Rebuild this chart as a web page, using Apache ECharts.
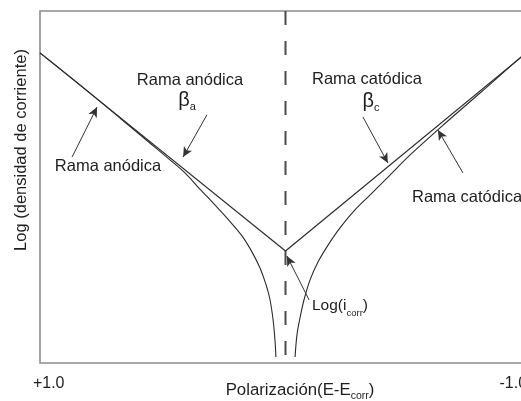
<!DOCTYPE html>
<html>
<head>
<meta charset="utf-8">
<script src="https://cdn.jsdelivr.net/npm/echarts@6/dist/echarts.min.js"></script>
<style>
  html, body { margin: 0; padding: 0; background: #fff; }
  #chart { width: 521px; height: 401px; }
</style>
</head>
<body>
<div id="chart"></div>
<script>
// Polarization E - Ecorr (positive to the left) vs. log current density (arbitrary units)
const anodicCurve = [
  [1.05, 8.81], [0.879, 7.90], [0.708, 6.96], [0.580, 6.25], [0.494, 5.77],
  [0.430, 5.40], [0.366, 4.94], [0.302, 4.49], [0.236, 4.01], [0.186, 3.61],
  [0.143, 3.15], [0.109, 2.70], [0.083, 2.22], [0.066, 1.79], [0.053, 1.22],
  [0.045, 0.65], [0.041, 0.17]
];
const cathodicCurve = [
  [-0.041, 0.17], [-0.049, 0.80], [-0.062, 1.28], [-0.079, 1.79], [-0.105, 2.36],
  [-0.139, 2.87], [-0.182, 3.35], [-0.233, 3.84], [-0.297, 4.35], [-0.361, 4.77],
  [-0.447, 5.34], [-0.533, 5.91], [-0.661, 6.68], [-0.832, 7.67], [-1.007, 8.69],
  [-1.05, 8.92]
];
// Tafel extrapolations meeting at (0, log icorr)
const anodicTafel = [[1.05, 8.81], [0, 3.18]];
const cathodicTafel = [[0, 3.18], [-1.05, 8.92]];
const ecorrLine = [[0, 10], [0, 0]];
const xTicks = [1, -1];
const xTickLabels = ['+1.0', '-1.0'];
// Annotation arrows: [from, to]
const arrows = [
  [[0.913, 5.85], [0.806, 7.27]],
  [[0.336, 7.05], [0.438, 5.85]],
  [[-0.331, 6.99], [-0.438, 5.68]],
  [[-0.759, 5.40], [-0.652, 6.62]],
  [[-0.101, 1.79], [-0.006, 3.04]]
];

const FONT = '"Liberation Sans", Arial, sans-serif';
const INK = '#1e1e1e';
const chart = echarts.init(document.getElementById('chart'), null, { renderer: 'canvas' });

const txt = (x, y, text, extra) => Object.assign({
  type: 'text', x: x, y: y, silent: true,
  style: Object.assign({
    text: text, fill: INK, fontFamily: FONT, fontSize: 16.5,
    align: 'center', verticalAlign: 'middle'
  }, extra || {})
});

const betaRich = {
  m: { fontSize: 20, fontFamily: FONT, fill: INK, lineHeight: 24 },
  s: { fontSize: 11, fontFamily: FONT, fill: INK, lineHeight: 24, verticalAlign: 'bottom', padding: [0, 0, 0, 0] }
};

const lineSeries = (data, width, extra) => Object.assign({
  type: 'line', data: data, showSymbol: false, silent: true,
  lineStyle: { color: '#2b2b2b', width: width }, animation: false
}, extra || {});

chart.setOption({
  animation: false,
  backgroundColor: '#fff',
  grid: {
    left: 40, top: 11, right: -10, bottom: 38,
    show: true, borderColor: '#8c8c8c', borderWidth: 1.6,
    containLabel: false, outerBoundsMode: 'none'
  },
  xAxis: {
    type: 'value', min: -1.05, max: 1.05, inverse: true,
    axisLine: { show: false }, axisTick: { show: false }, splitLine: { show: false },
    axisLabel: {
      customValues: xTicks,
      margin: 13,
      fontFamily: FONT, fontSize: 16, color: INK,
      formatter: function (v) {
        const i = xTicks.indexOf(v);
        return i === 0 ? '{p|' + xTickLabels[0] + '}' : '{m|' + xTickLabels[1] + '}';
      },
      rich: {
        p: { fontFamily: FONT, fontSize: 16, color: INK, padding: [0, 6, 0, 0] },
        m: { fontFamily: FONT, fontSize: 16, color: INK, padding: [0, 12, 0, 0] }
      }
    }
  },
  yAxis: {
    type: 'value', min: 0, max: 10,
    axisLine: { show: false }, axisTick: { show: false },
    splitLine: { show: false }, axisLabel: { show: false }
  },
  series: [
    lineSeries(ecorrLine, 2, { lineStyle: { color: '#4a4a4a', width: 2, type: [14, 16] } }),
    lineSeries(anodicTafel, 1.2),
    lineSeries(cathodicTafel, 1.2),
    lineSeries(anodicCurve, 1.1, { smooth: 0.35 }),
    lineSeries(cathodicCurve, 1.1, { smooth: 0.35 }),
    {
      type: 'line', data: [], silent: true,
      markLine: {
        silent: true, animation: false,
        symbol: ['none', 'arrow'], symbolSize: [7, 10],
        label: { show: false },
        lineStyle: { color: '#333', width: 1, type: 'solid' },
        emphasis: { disabled: true },
        data: arrows.map(a => [{ coord: a[0] }, { coord: a[1] }])
      }
    }
  ],
  graphic: [
    txt(190, 80, 'Rama anódica'),
    txt(108, 166, 'Rama anódica'),
    txt(367, 79, 'Rama catódica'),
    txt(412, 197, 'Rama catódica', { align: 'left' }),
    txt(187, 100, '{m|β}{s|a}', { rich: betaRich }),
    txt(371, 101, '{m|β}{s|c}', { rich: betaRich }),
    txt(312, 306, '{m|Log(i}{s|corr}{m|)}', { align: 'left', rich: {
      m: { fontSize: 15.5, fontFamily: FONT, fill: INK, lineHeight: 22 },
      s: { fontSize: 9.5, fontFamily: FONT, fill: INK, lineHeight: 22, verticalAlign: 'bottom', padding: [0, 0, -1, 0] }
    } }),
    txt(300, 390, '{m|Polarización(E-E}{s|corr}{m|)}', { rich: {
      m: { fontSize: 16.8, fontFamily: FONT, fill: INK, lineHeight: 22 },
      s: { fontSize: 10.5, fontFamily: FONT, fill: INK, lineHeight: 22, verticalAlign: 'bottom', padding: [0, 0, -1, 0] }
    } }),
    Object.assign(txt(21, 150, 'Log (densidad de corriente)', { fontSize: 16.5 }), { rotation: Math.PI / 2 })
  ]
});
</script>
</body>
</html>
